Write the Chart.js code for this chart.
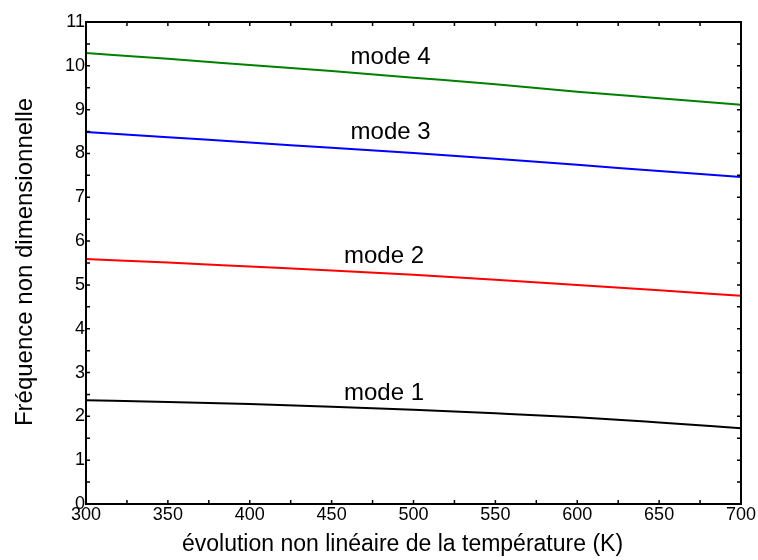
<!DOCTYPE html>
<html>
<head>
<meta charset="utf-8">
<script src="https://cdn.jsdelivr.net/npm/chart.js@4"></script>
<style>
  html, body { margin: 0; padding: 0; background: #fff; }
  #wrap { width: 758px; height: 560px; }
</style>
</head>
<body>
<div id="wrap"><canvas id="freq-chart"></canvas></div>
<script>
const temperature = [300, 350, 400, 450, 500, 550, 600, 650, 700]
const mode1 = [2.37, 2.33, 2.28, 2.22, 2.15, 2.07, 1.98, 1.86, 1.73]
const mode2 = [5.59, 5.51, 5.42, 5.33, 5.23, 5.12, 5.00, 4.88, 4.75]
const mode3 = [8.49, 8.37, 8.25, 8.13, 8.01, 7.88, 7.74, 7.60, 7.46]
const mode4 = [10.29, 10.16, 10.02, 9.88, 9.73, 9.58, 9.41, 9.26, 9.11]

const modeNames = ['mode 1', 'mode 2', 'mode 3', 'mode 4']
const modeColors = ['#000000', '#ff0000', '#0000ff', '#008000']
// where each curve name sits (temperature, frequency)
const nameAnchors = [[482, 2.53], [482, 5.66], [486, 8.47], [486, 10.2]]

const xTitle = 'évolution non linéaire de la température (K)'
const yTitle = 'Fréquence non dimensionnelle'

const FONT = '"Liberation Sans", Arial, sans-serif'

const toPoints = (vals) => vals.map((v, i) => ({ x: temperature[i], y: v }))

// box around the plot with small inward ticks on every side, curve names and axis titles
const framePlugin = {
    id: 'frame',
    afterDatasetsDraw(chart) {
        const { ctx, chartArea: a, scales } = chart
        const xs = scales.x, ys = scales.y
        ctx.save()
        ctx.strokeStyle = '#000'
        ctx.lineWidth = 1.5
        ctx.beginPath()
        for (let t = xs.min; t <= xs.max; t += 25) {
            const px = xs.getPixelForValue(t)
            ctx.moveTo(px, a.bottom); ctx.lineTo(px, a.bottom - 4)
            ctx.moveTo(px, a.top); ctx.lineTo(px, a.top + 4)
        }
        for (let f = ys.min; f <= ys.max; f += 0.5) {
            const py = ys.getPixelForValue(f)
            ctx.moveTo(a.left, py); ctx.lineTo(a.left + 4, py)
            ctx.moveTo(a.right, py); ctx.lineTo(a.right - 4, py)
        }
        ctx.stroke()
        ctx.lineWidth = 2
        ctx.strokeRect(a.left, a.top, a.right - a.left, a.bottom - a.top)

        ctx.fillStyle = '#000'
        ctx.textAlign = 'center'
        ctx.textBaseline = 'middle'
        ctx.font = '24px ' + FONT
        nameAnchors.forEach((p, i) => {
            ctx.fillText(modeNames[i], xs.getPixelForValue(p[0]), ys.getPixelForValue(p[1]))
        })

        ctx.font = '23px ' + FONT
        ctx.fillText(xTitle, (a.left + a.right) / 2 - 11, 545)
        ctx.translate(25, (a.top + a.bottom) / 2 - 1)
        ctx.rotate(-Math.PI / 2)
        ctx.font = '24px ' + FONT
        ctx.fillText(yTitle, 0, 0)
        ctx.restore()
    }
}

window.onload = () => {
    const canvas = document.querySelector('#freq-chart')
    const series = [mode1, mode2, mode3, mode4]

    new Chart(canvas, {
        type: 'line',
        data: {
            datasets: series.map((vals, i) => ({
                label: modeNames[i],
                data: toPoints(vals),
                borderColor: modeColors[i],
                borderWidth: 2,
                pointRadius: 0,
                cubicInterpolationMode: 'monotone',
                fill: false
            }))
        },
        options: {
            responsive: true,
            maintainAspectRatio: false,
            animation: false,
            layout: { padding: { top: 22, right: 17, left: 0, bottom: 0 } },
            plugins: {
                legend: { display: false },
                tooltip: { enabled: false }
            },
            scales: {
                x: {
                    type: 'linear',
                    min: 300,
                    max: 700,
                    grid: { display: false, drawTicks: false },
                    border: { display: false },
                    ticks: {
                        stepSize: 50,
                        autoSkip: false,
                        maxRotation: 0,
                        padding: 0,
                        color: '#000',
                        font: { family: FONT, size: 18 }
                    },
                    afterFit(scale) { scale.height = 56 }
                },
                y: {
                    min: 0,
                    max: 11,
                    grid: { display: false, drawTicks: false },
                    border: { display: false },
                    ticks: {
                        stepSize: 1,
                        padding: 1,
                        color: '#000',
                        font: { family: FONT, size: 18 }
                    },
                    afterFit(scale) { scale.width = 86 }
                }
            }
        },
        plugins: [framePlugin]
    })
}
</script>
</body>
</html>
